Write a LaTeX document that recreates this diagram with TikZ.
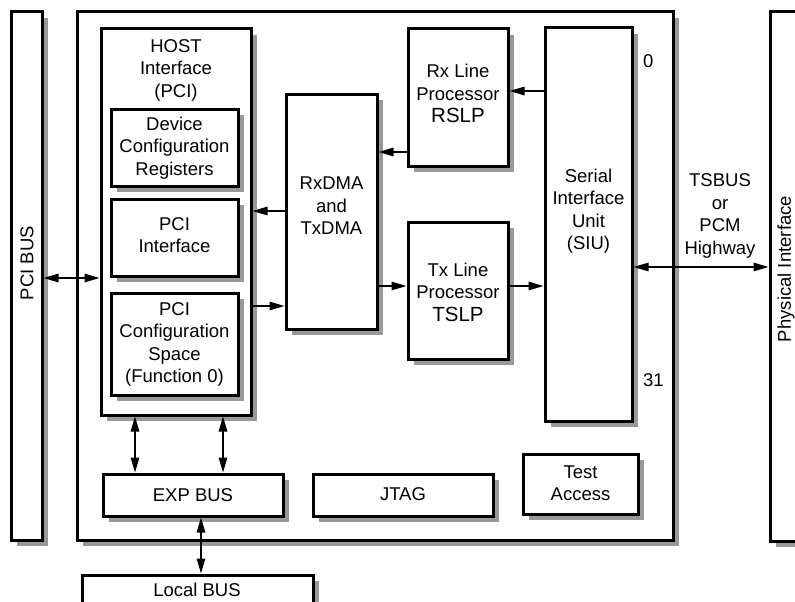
\documentclass[tikz,border=0pt]{standalone}
\usepackage{fontspec}
\setmainfont{Liberation Sans}
\usetikzlibrary{arrows.meta,shadows}
\begin{document}
\begin{tikzpicture}[x=1pt,y=-1pt,
  blk/.style={draw=black, line width=3pt, fill=white, inner sep=0pt,
    drop shadow={shadow xshift=6pt, shadow yshift=-6pt, fill=black!40, opacity=1}},
  txt/.style={font=\fontsize{18.5}{22.5}\selectfont, align=center, inner sep=0pt},
  bigtxt/.style={font=\fontsize{20.5}{22.5}\selectfont},
  tip/.tip={Triangle[length=15pt,width=8.5pt]},
  arr/.style={line width=1.3pt, -tip},
  darr/.style={line width=1.3pt, tip-tip},
]
\path[use as bounding box, clip] (0,0) rectangle (795,602);
\fill[white] (0,0) rectangle (795,602);

% outer frames
\node[blk, minimum width=31pt, minimum height=528pt] (pcibus) at (26.5,276) {};
\node[blk, minimum width=596pt, minimum height=528pt] (chip) at (375,276) {};
\node[blk, minimum width=60pt, minimum height=529pt] (phys) at (800,276.5) {};
\node[blk, minimum width=231pt, minimum height=65pt] (local) at (197.5,607.5) {};

% host interface
\node[blk, minimum width=150pt, minimum height=386pt] (host) at (176,222) {};
\node[blk, minimum width=127pt, minimum height=77pt] (dcr) at (174.5,147.5) {};
\node[blk, minimum width=127pt, minimum height=77pt] (pcii) at (174.5,237.5) {};
\node[blk, minimum width=127pt, minimum height=102pt] (pcic) at (174.5,344) {};

% processing blocks
\node[blk, minimum width=91pt, minimum height=235pt] (dma) at (331.5,211.5) {};
\node[blk, minimum width=100pt, minimum height=137pt] (rx) at (458,97.5) {};
\node[blk, minimum width=100pt, minimum height=137pt] (tx) at (458,290.5) {};
\node[blk, minimum width=87pt, minimum height=393pt] (siu) at (588.5,224.5) {};

% bottom blocks
\node[blk, minimum width=180pt, minimum height=42pt] (exp) at (193,495) {};
\node[blk, minimum width=180pt, minimum height=42pt] (jtag) at (403,495) {};
\node[blk, minimum width=115pt, minimum height=60pt] (test) at (580.5,484) {};

% texts
\node[txt, rotate=90] (tpcibus) at (27,263) {PCI BUS};
\node[txt, rotate=90] (tphys) at (786,269) {Physical Interface};
\node[txt] (thost) at (176,70) {HOST\\Interface\\(PCI)};
\node[txt] (tdcr) at (174.5,148) {Device\\Configuration\\Registers};
\node[txt] (tpcii) at (174.5,235) {PCI\\Interface};
\node[txt] (tpcic) at (174.5,344.5) {PCI\\Configuration\\Space\\(Function 0)};
\node[txt] (tdma) at (331.5,206) {RxDMA\\and\\TxDMA};
\node[txt] (trx) at (458,93.5) {Rx Line\\Processor\\{\fontsize{20.5}{22.5}\selectfont RSLP}};
\node[txt] (ttx) at (458,292) {Tx Line\\Processor\\{\fontsize{20.5}{22.5}\selectfont TSLP}};
\node[txt] (tsiu) at (588.5,211) {Serial\\Interface\\Unit\\(SIU)};
\node[txt] (tbus) at (720,216) {TSBUS\\or\\PCM\\Highway};
\node[txt] (texp) at (193,495) {EXP BUS};
\node[txt] (tjtag) at (403,494) {JTAG};
\node[txt] (ttest) at (580.5,483) {Test\\Access};
\node[txt] (tlocal) at (197,590) {Local BUS};
\node[txt, anchor=west] (tzero) at (643,61) {0};
\node[txt, anchor=west] (tlast) at (643,380) {31};

% connectors
\draw[arr] (siu.west |- 0,91) -- (rx.east |- 0,91);
\draw[arr] (rx.west |- 0,152) -- (dma.east |- 0,152);
\draw[arr] (dma.west |- 0,211) -- (host.east |- 0,211);
\draw[arr] (host.east |- 0,306) -- (dma.west |- 0,306);
\draw[arr] (dma.east |- 0,286) -- (tx.west |- 0,286);
\draw[arr] (tx.east |- 0,286) -- (siu.west |- 0,286);
\draw[darr] (pcibus.east |- 0,278) -- (host.west |- 0,278);
\draw[darr] (siu.east |- 0,267) -- (phys.west |- 0,267);
\draw[darr] (host.south -| 135,0) -- (exp.north -| 135,0);
\draw[darr] (host.south -| 223,0) -- (exp.north -| 223,0);
\draw[darr] (exp.south -| 201,0) -- (local.north -| 201,0);
\end{tikzpicture}
\end{document}
